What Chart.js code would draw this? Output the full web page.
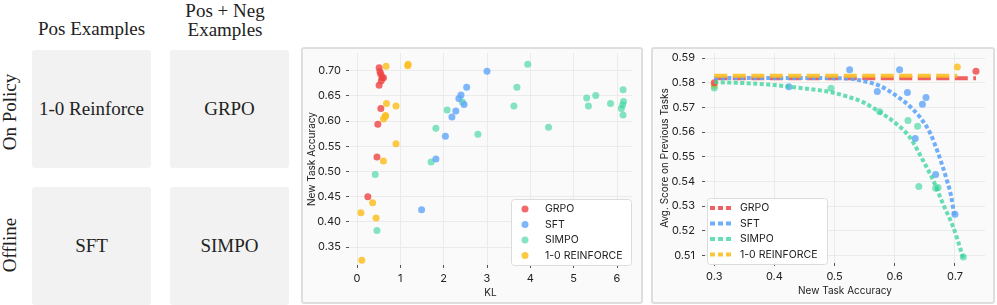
<!DOCTYPE html>
<html>
<head>
<meta charset="utf-8">
<script src="https://cdn.jsdelivr.net/npm/chart.js"></script>
<style>
  body { margin: 0; background: #fff; width: 997px; height: 305px; position: relative; overflow: hidden; }
  .serif { font-family: "Liberation Serif", "DejaVu Serif", serif; color: #222; position: absolute; font-size: 19px; }
  .cell { position: absolute; background: #f2f2f2; border-radius: 3px; width: 119px; height: 118px;
          display: flex; align-items: center; justify-content: center; }
  .head { text-align: center; line-height: 19px; }
  .rot { transform: translate(-50%, -50%) rotate(-90deg); white-space: nowrap; }
  .panel { position: absolute; top: 47px; height: 253px; border: 2px solid #dedede; border-radius: 3px; background: #fafafa; }
</style>
</head>
<body>
<div class="serif head" style="left:20px; top:19px; width:143px;">Pos Examples</div>
<div class="serif head" style="left:160px; top:1px; width:130px;">Pos + Neg<br>Examples</div>
<div class="serif rot" style="left:10px; top:112px;">On Policy</div>
<div class="serif rot" style="left:10px; top:245px;">Offline</div>
<div class="cell serif" style="left:32px; top:50px;">1-0 Reinforce</div>
<div class="cell serif" style="left:170px; top:50px;">GRPO</div>
<div class="cell serif" style="left:32px; top:187px;">SFT</div>
<div class="cell serif" style="left:170px; top:187px;">SIMPO</div>

<div class="panel" style="left:301px; width:338px;"><canvas id="klChart" width="338" height="253"></canvas></div>
<div class="panel" style="left:651px; width:340px;"><canvas id="fitChart" width="340" height="253"></canvas></div>

<script>
// left chart: KL vs new task accuracy
const grpoKL = [0.51, 0.53, 0.55, 0.58, 0.61, 0.56, 0.51, 0.55, 0.48, 0.46, 0.25];
const grpoAcc = [0.706, 0.698, 0.693, 0.686, 0.686, 0.680, 0.671, 0.625, 0.594, 0.529, 0.450];
const sftKL = [3.00, 2.53, 2.40, 2.35, 2.47, 2.28, 2.19, 2.04, 1.82, 1.49];
const sftAcc = [0.699, 0.667, 0.652, 0.645, 0.633, 0.620, 0.608, 0.570, 0.525, 0.424];
const simpoKL = [0.42, 1.82, 2.08, 2.43, 1.71, 2.79, 0.46, 3.94, 3.69, 3.62, 4.42, 5.30, 5.51, 5.34, 5.85, 6.14, 6.15, 6.13, 6.10, 6.14];
const simpoAcc = [0.494, 0.586, 0.622, 0.638, 0.519, 0.574, 0.383, 0.713, 0.667, 0.630, 0.588, 0.646, 0.651, 0.630, 0.635, 0.662, 0.639, 0.632, 0.625, 0.612];
const reinforceKL = [0.67, 1.18, 1.17, 0.68, 0.90, 0.66, 0.65, 0.61, 0.90, 0.61, 0.36, 0.09, 0.44, 0.11];
const reinforceAcc = [0.709, 0.713, 0.710, 0.635, 0.630, 0.611, 0.609, 0.604, 0.555, 0.521, 0.438, 0.418, 0.408, 0.324];

// right chart: new task accuracy vs avg score on previous tasks
const grpoNew = [0.300, 0.735];
const grpoPrev = [0.5800, 0.5847];
const sftNew = [0.525, 0.608, 0.424, 0.571, 0.621, 0.652, 0.646, 0.634, 0.668, 0.700];
const sftPrev = [0.5853, 0.5853, 0.5784, 0.5765, 0.5761, 0.5740, 0.5713, 0.5574, 0.5428, 0.5267];
const simpoNew = [0.300, 0.494, 0.575, 0.622, 0.638, 0.640, 0.668, 0.672, 0.714];
const simpoPrev = [0.5779, 0.5778, 0.5683, 0.5647, 0.5624, 0.5379, 0.5372, 0.5375, 0.5093];
const reinforceNew = [0.300, 0.704];
const reinforcePrev = [0.5789, 0.5864];

// fitted curves
const grpoFitX = [0.300, 0.735];
const grpoFitY = [0.5819, 0.5819];
const reinforceFitX = [0.300, 0.704];
const reinforceFitY = [0.5829, 0.5829];
const sftFitX = [0.300, 0.400, 0.500, 0.530, 0.550, 0.575, 0.600, 0.625, 0.642, 0.658, 0.672, 0.686, 0.694, 0.699];
const sftFitY = [0.5820, 0.5820, 0.5819, 0.5816, 0.5806, 0.5788, 0.5752, 0.5705, 0.5660, 0.5600, 0.5515, 0.5410, 0.5337, 0.5260];
const simpoFitX = [0.300, 0.350, 0.400, 0.450, 0.494, 0.520, 0.545, 0.570, 0.603, 0.625, 0.647, 0.664, 0.680, 0.697, 0.708, 0.714];
const simpoFitY = [0.5803, 0.5799, 0.5791, 0.5777, 0.5762, 0.5745, 0.5724, 0.5689, 0.5633, 0.5579, 0.5485, 0.5404, 0.5310, 0.5216, 0.5135, 0.5088];

const klTicks = [0, 1, 2, 3, 4, 5, 6];
const accTicks = [0.35, 0.40, 0.45, 0.50, 0.55, 0.60, 0.65, 0.70];
const newAccTicks = [0.3, 0.4, 0.5, 0.6, 0.7];
const prevTicks = [0.51, 0.52, 0.53, 0.54, 0.55, 0.56, 0.57, 0.58, 0.59];

const labels = ["GRPO", "SFT", "SIMPO", "1-0 REINFORCE"];
const colors = ["rgba(239,68,68,0.8)", "rgba(96,165,250,0.8)", "rgba(52,211,153,0.6)", "rgba(251,191,36,0.85)"];
const lineColors = ["rgba(239,68,68,0.85)", "rgba(96,165,250,0.9)", "rgba(52,211,153,0.75)", "rgba(251,191,36,0.9)"];

Chart.defaults.font.family = 'Inter, "Liberation Sans", sans-serif';
Chart.defaults.color = "#333";
Chart.defaults.animation = false;

const pts = (xs, ys) => xs.map((x, i) => ({ x: x, y: ys[i] }));

function axis(min, max, ticks, fmt, title, size, tickPad, titlePad) {
  return {
    type: "linear", min: min, max: max,
    afterBuildTicks: (s) => { s.ticks = ticks.map((v) => ({ value: v })); },
    afterFit: (s) => {
      if (s.isHorizontal()) s.height = size; else s.width = size;
      // keep the plot area where the layout padding puts it
      s.paddingTop = s.paddingBottom = s.paddingLeft = s.paddingRight = 0;
    },
    grid: { color: "#ebebeb", tickColor: "#555", tickLength: 3, drawTicks: true },
    border: { display: false },
    ticks: { font: { size: 11 }, color: "#222", padding: tickPad, callback: fmt },
    title: { display: true, text: title, font: { size: 10 }, color: "#222", padding: titlePad },
  };
}

// draws the boxed legend inside the plot area
function legendPlugin(kind, place) {
  return {
    id: "boxLegend",
    afterDraw(chart) {
      const ctx = chart.ctx, a = chart.chartArea;
      const w = 120, h = 66;
      const x = place === "right" ? a.right - w - 1 : a.left + 2;
      const y = place === "right" ? a.bottom - h : a.bottom - h + 1;
      ctx.save();
      ctx.fillStyle = "rgba(255,255,255,0.92)";
      ctx.strokeStyle = "#dcdcdc";
      ctx.lineWidth = 1;
      ctx.beginPath();
      ctx.roundRect(x + 0.5, y + 0.5, w, h, 3);
      ctx.fill();
      ctx.stroke();
      ctx.font = '10.5px Inter, "Liberation Sans", sans-serif';
      ctx.textBaseline = "middle";
      labels.forEach((lab, i) => {
        const cy = y + 10 + i * 15.5;
        if (kind === "dot") {
          ctx.fillStyle = colors[i];
          ctx.beginPath();
          ctx.arc(x + 14, cy, 3.5, 0, Math.PI * 2);
          ctx.fill();
          ctx.fillStyle = "#222";
          ctx.fillText(lab, x + 34, cy);
        } else {
          ctx.strokeStyle = lineColors[i];
          ctx.lineWidth = 4;
          ctx.setLineDash([5, 3]);
          ctx.beginPath();
          ctx.moveTo(x + 3, cy);
          ctx.lineTo(x + 27, cy);
          ctx.stroke();
          ctx.setLineDash([]);
          ctx.fillStyle = "#222";
          ctx.fillText(lab, x + 33, cy);
        }
      });
      ctx.restore();
    },
  };
}

function dots(label, xs, ys, i) {
  return { label: label, data: pts(xs, ys), backgroundColor: colors[i], borderWidth: 0, pointRadius: 3.5, order: 10 };
}
function fit(label, xs, ys, i, dash, order) {
  return {
    label: label, data: pts(xs, ys), showLine: true, pointRadius: 0, borderColor: lineColors[i],
    borderWidth: 4, borderDash: dash, cubicInterpolationMode: "monotone", order: order,
  };
}

new Chart(document.getElementById("klChart"), {
  type: "scatter",
  data: {
    datasets: [
      dots("GRPO", grpoKL, grpoAcc, 0),
      dots("SFT", sftKL, sftAcc, 1),
      dots("SIMPO", simpoKL, simpoAcc, 2),
      dots("1-0 REINFORCE", reinforceKL, reinforceAcc, 3),
    ],
  },
  options: {
    responsive: false,
    devicePixelRatio: 1,
    layout: { padding: { top: 4, right: 9, left: 0, bottom: 0 } },
    plugins: { legend: { display: false }, tooltip: { enabled: false } },
    scales: {
      x: axis(-0.185, 6.346, klTicks, (v) => String(v), "KL", 37, 4, { top: 0, bottom: 3 }),
      y: axis(0.3146, 0.7351, accTicks, (v) => v.toFixed(2), "New Task Accuracy", 46, 5, { top: 3, bottom: 0 }),
    },
  },
  plugins: [legendPlugin("dot", "right")],
});

new Chart(document.getElementById("fitChart"), {
  type: "scatter",
  data: {
    datasets: [
      fit("1-0 REINFORCE", reinforceFitX, reinforceFitY, 3, [13, 5.5], 0),
      fit("SIMPO", simpoFitX, simpoFitY, 2, [4, 2.5], 1),
      fit("SFT", sftFitX, sftFitY, 1, [4, 2.5], 2),
      fit("GRPO", grpoFitX, grpoFitY, 0, [13, 5.5], 3),
      dots("GRPO", grpoNew, grpoPrev, 0),
      dots("SFT", sftNew, sftPrev, 1),
      dots("SIMPO", simpoNew, simpoPrev, 2),
      dots("1-0 REINFORCE", reinforceNew, reinforcePrev, 3),
    ],
  },
  options: {
    responsive: false,
    devicePixelRatio: 1,
    layout: { padding: { top: 3, right: 8, left: 0, bottom: 0 } },
    plugins: { legend: { display: false }, tooltip: { enabled: false } },
    scales: {
      x: axis(0.2846, 0.75, newAccTicks, (v) => v.toFixed(1), "New Task Accuracy", 39, 4, { top: 0, bottom: 5 }),
      y: axis(0.5069, 0.5921, prevTicks, (v) => v.toFixed(2), "Avg. Score on Previous Tasks", 52, 7, { top: 6, bottom: 0 }),
    },
  },
  plugins: [legendPlugin("line", "left")],
});
</script>
</body>
</html>
